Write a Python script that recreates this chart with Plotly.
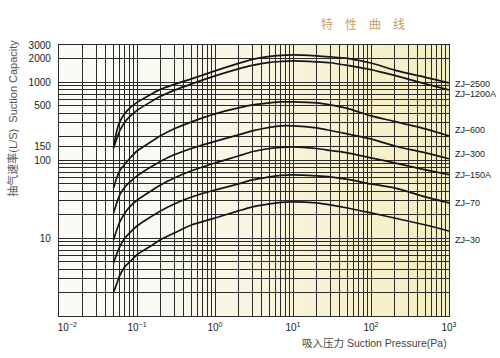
import plotly.graph_objects as go
import math

# ---------------- data ----------------
PRESSURE = [0.05, 0.055, 0.06, 0.07, 0.08, 0.1, 0.15, 0.2, 0.3, 0.5, 1, 2, 3, 5, 7,
            10, 20, 30, 50, 100, 200, 500, 1000]

ZJ_2500 = [143, 237, 309, 398, 461, 550, 697, 809, 937, 1102, 1396, 1742, 1963, 2143, 2210,
           2240, 2177, 2115, 2022, 1760, 1430, 1153, 979]
ZJ_1200A = [143, 187, 237, 309, 359, 435, 559, 658, 785, 951, 1205, 1482, 1643, 1795, 1843,
            1877, 1823, 1775, 1643, 1450, 1222, 951, 796]
ZJ_600 = [44, 59, 73, 89, 104, 131, 171, 205, 252, 310, 392, 468, 511, 542, 559,
          559, 542, 511, 461, 369, 314, 252, 205]
ZJ_300 = [21, 28.2, 35.8, 45.3, 51.7, 62.7, 81.8, 96.2, 117, 141, 174, 211, 237, 263, 275,
          275, 259, 240, 217, 187, 152, 124, 104]
ZJ_150A = [9.5, 12.7, 16, 21, 25, 30.6, 40, 48, 59, 73, 92, 113, 128, 141, 146,
           148, 141, 133, 124, 107, 92, 75, 65]
ZJ_70 = [4.8, 6.25, 7.7, 10, 11.6, 14.3, 18.7, 22.3, 27.4, 33.7, 41.4, 49.5, 55.7, 60.9, 63.6,
         64.6, 62.7, 60.9, 56.5, 49.5, 44, 33.7, 28.2]
ZJ_30 = [2.0, 2.6, 3.3, 4.3, 4.9, 6.1, 7.9, 9.5, 11.6, 14.7, 18.1, 22.3, 25.1, 27.4, 28.7,
         29.1, 28.2, 26.6, 24.3, 21, 18.1, 14.7, 12.3]

SERIES = ["ZJ–2500", "ZJ–1200A", "ZJ–600", "ZJ–300", "ZJ–150A", "ZJ–70", "ZJ–30"]
SERIES_VALUES = [ZJ_2500, ZJ_1200A, ZJ_600, ZJ_300, ZJ_150A, ZJ_70, ZJ_30]
LABEL_Y = [955, 710, 245, 121, 65, 28.3, 9.4]   # where each curve label sits (data units)

X_TICK_VALUES = [0.01, 0.1, 1, 10, 100, 1000]
X_TICK_LABELS = ["\u00a0" * 6 + "10<sup>−2</sup>", "10<sup>−1</sup>", "10<sup>0</sup>",
                 "10<sup>1</sup>", "10<sup>2</sup>", "10<sup>3</sup>"]
Y_TICK_VALUES = [3000, 2000, 1000, 500, 150, 100, 10]
Y_TICK_LABELS = ["3000", "2000", "1000", "500", "150", "100", "10"]

TITLE = "特　性　曲　线"
X_TITLE = "吸入压力 Suction Pressure(Pa)"
Y_TITLE = "抽气速率(L/S)  Suction Capacity"

# ---------------- figure ----------------
FONT = "Liberation Sans, Arial, Noto Sans CJK SC, sans-serif"
GRID = "#2a2a2a"

# full log grid (1..9 per decade) drawn as minor grid lines
x_grid = [m * 10 ** k for k in range(-2, 3) for m in range(2, 10)]
y_grid = sorted(set([m * 10 ** k for k in range(0, 3) for m in range(1, 10)] + [1000]) - set(Y_TICK_VALUES))

fig = go.Figure()

for name, vals in zip(SERIES, SERIES_VALUES):
    fig.add_trace(go.Scatter(
        x=PRESSURE, y=vals, mode="lines", name=name,
        line=dict(color="#151515", width=1.7, shape="spline", smoothing=0.6),
        showlegend=False, hoverinfo="skip"))

# curve labels
for name, ly in zip(SERIES, LABEL_Y):
    fig.add_annotation(x=1.01, xref="paper", y=math.log10(ly), yref="y",
                       text=name, showarrow=False, xanchor="left", yanchor="middle",
                       font=dict(family=FONT, size=9, color="#222222"))

# background gradient (white on the left, pale cream/yellow on the right)
N = 60
c0 = (250, 250, 246)
c1 = (246, 238, 196)
for i in range(N):
    t = (i + 0.5) / N
    w = min(1.0, max(0.0, (t - 0.15) / 0.75)) ** 1.1
    col = tuple(round(c0[j] + (c1[j] - c0[j]) * w) for j in range(3))
    fig.add_shape(type="rect", xref="x domain", yref="y domain",
                  x0=i / N, x1=(i + 1) / N + 0.002, y0=0, y1=1,
                  fillcolor="rgb(%d,%d,%d)" % col, line=dict(width=0), layer="below")

fig.add_annotation(x=0.892, xref="paper", y=1.118, yref="paper", text=TITLE,
                   showarrow=False, font=dict(family="Noto Sans CJK SC", size=12, color="#c99d5e"))
fig.add_annotation(x=1.0, xref="paper", y=-0.10, yref="paper", text=X_TITLE,
                   showarrow=False, xanchor="right", yanchor="middle",
                   font=dict(family=FONT, size=10.5, color="#444444"))
fig.add_annotation(x=-0.12, xref="paper", y=0.729, yref="paper", text=Y_TITLE,
                   textangle=-90, showarrow=False, xanchor="center", yanchor="middle",
                   font=dict(family=FONT, size=11, color="#555555"))

fig.update_xaxes(type="log", range=[-2, 3],
                 tickvals=X_TICK_VALUES, ticktext=X_TICK_LABELS,
                 showgrid=True, gridcolor=GRID, gridwidth=1.2, ticks="",
                 minor=dict(tickmode="array", tickvals=x_grid, showgrid=True,
                            gridcolor=GRID, gridwidth=1.2, ticks=""),
                 showline=True, linecolor=GRID, linewidth=1.3, mirror=True,
                 zeroline=False, tickfont=dict(family=FONT, size=10, color="#222222"),
                 ticklabelstandoff=2)
fig.update_yaxes(type="log", range=[0, math.log10(3000)],
                 tickvals=Y_TICK_VALUES, ticktext=Y_TICK_LABELS,
                 showgrid=True, gridcolor=GRID, gridwidth=1.2, ticks="",
                 minor=dict(tickmode="array", tickvals=y_grid, showgrid=True,
                            gridcolor=GRID, gridwidth=1.2, ticks=""),
                 showline=True, linecolor=GRID, linewidth=1.3, mirror=True,
                 zeroline=False, tickfont=dict(family=FONT, size=10, color="#222222"),
                 ticklabelstandoff=5)

fig.update_layout(width=500, height=358,
                  margin=dict(l=59, r=51, t=45, b=42),
                  paper_bgcolor="white", plot_bgcolor="white",
                  font=dict(family=FONT))

fig.write_html("out.html")
